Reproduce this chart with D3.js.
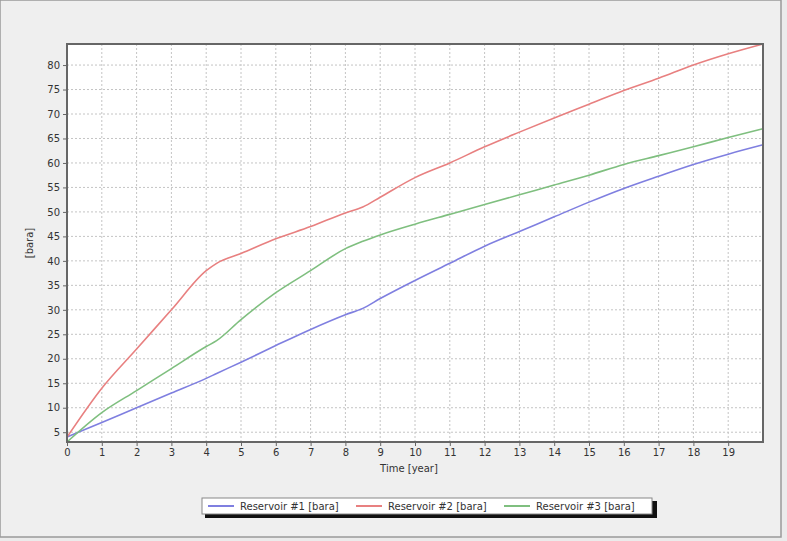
<!DOCTYPE html>
<html>
<head>
  <script src="https://cdn.jsdelivr.net/npm/d3@7"></script>
  <style>body{margin:0;background:#fff}</style>
</head>
<body>
<script>
  const years = [0, 1, 2, 3, 4, 4.3, 5, 6, 7, 8, 8.5, 9, 10, 11, 12, 13, 14, 15, 16, 17, 18, 19, 20];
  const res1 = [4, 7, 10, 13, 16, 17, 19.3, 22.7, 26, 29, 30.3, 32.3, 36, 39.5, 43, 46, 49, 52, 54.8, 57.3, 59.7, 61.8, 63.7];
  const res2 = [4, 14, 22, 30, 38, 39.5, 41.5, 44.5, 47, 49.8, 51, 53, 57, 60, 63.3, 66.3, 69.2, 72, 74.8, 77.3, 80, 82.3, 84.3];
  const res3 = [3, 9, 13.5, 18, 22.5, 23.7, 28, 33.5, 38, 42.5, 44, 45.3, 47.5, 49.5, 51.5, 53.5, 55.5, 57.5, 59.7, 61.5, 63.3, 65.2, 67];
  const names = ["Reservoir #1 [bara]", "Reservoir #2 [bara]", "Reservoir #3 [bara]"];
  const colors = ["#7f7fe0", "#e88080", "#7fbf7f"];
  const xTicks = d3.range(0, 20);
  const yTicks = d3.range(5, 85, 5);

  const W = 787, H = 541;
  const m = {left: 67, right: 24, top: 44, bottom: 99};
  const svg = d3.select("body").append("svg").attr("width", W).attr("height", H)
    .style("font-family", "Verdana, 'DejaVu Sans', sans-serif");

  // Hintergrund und Rahmen
  svg.append("rect").attr("width", W).attr("height", H).attr("fill", "#ebebeb");
  svg.append("rect").attr("x", 0).attr("y", 0).attr("width", 781).attr("height", 537)
    .attr("fill", "#efefef").attr("stroke", "#9a9a9a").attr("stroke-width", 1.5);

  const x = d3.scaleLinear().domain([0, 20]).range([m.left, W - m.right]);
  const y = d3.scaleLinear().domain([3, 84.3]).range([H - m.bottom, m.top]);

  svg.append("rect").attr("x", m.left).attr("y", m.top)
    .attr("width", x(20) - x(0)).attr("height", y(3) - y(84.3)).attr("fill", "#fff");

  // Gitter
  svg.append("g").selectAll("line").data(xTicks.slice(1)).enter().append("line")
    .attr("x1", d => x(d)).attr("x2", d => x(d)).attr("y1", m.top).attr("y2", y(3))
    .attr("stroke", "#c4c4c4").attr("stroke-dasharray", "2,2");
  svg.append("g").selectAll("line").data(yTicks).enter().append("line")
    .attr("y1", d => y(d)).attr("y2", d => y(d)).attr("x1", m.left).attr("x2", x(20))
    .attr("stroke", "#c4c4c4").attr("stroke-dasharray", "2,2");

  const xAxis = svg.append("g").attr("transform", `translate(0,${y(3)})`)
    .call(d3.axisBottom(x).tickValues(xTicks).tickFormat(d3.format("d")).tickSize(4));
  const yAxis = svg.append("g").attr("transform", `translate(${m.left},0)`)
    .call(d3.axisLeft(y).tickValues(yTicks).tickSize(4));
  [xAxis, yAxis].forEach(a => {
    a.select(".domain").remove();
    a.selectAll("text").attr("font-size", 10).attr("fill", "#333").attr("font-family", "Verdana, 'DejaVu Sans', sans-serif");
    a.selectAll("line").attr("stroke", "#666");
  });

  const series = [res1, res2, res3];
  const line = d3.line().curve(d3.curveMonotoneX).x((d, i) => x(years[i])).y(d => y(d));
  series.forEach((s, k) => {
    svg.append("path").datum(s).attr("d", line).attr("fill", "none")
      .attr("stroke", colors[k]).attr("stroke-width", 1.6);
  });

  // Plot-Rahmen
  svg.append("rect").attr("x", m.left).attr("y", m.top)
    .attr("width", x(20) - x(0)).attr("height", y(3) - y(84.3))
    .attr("fill", "none").attr("stroke", "#666").attr("stroke-width", 2);

  svg.append("text").attr("x", (x(0) + x(20)) / 2 - 6).attr("y", 472).attr("text-anchor", "middle")
    .attr("font-size", 10).attr("fill", "#333").text("Time [year]");
  svg.append("text").attr("transform", `translate(33,${(m.top + y(3)) / 2}) rotate(-90)`)
    .attr("text-anchor", "middle").attr("font-size", 10).attr("fill", "#333").text("[bara]");

  // Legende
  const lg = svg.append("g").attr("transform", "translate(202,498)");
  lg.append("rect").attr("x", 3).attr("y", 3).attr("width", 452).attr("height", 17).attr("fill", "#111");
  lg.append("rect").attr("width", 450).attr("height", 16).attr("fill", "#fff").attr("stroke", "#888");
  const offs = [6, 154, 302];
  names.forEach((n, k) => {
    lg.append("line").attr("x1", offs[k]).attr("x2", offs[k] + 26).attr("y1", 8).attr("y2", 8)
      .attr("stroke", colors[k]).attr("stroke-width", 2);
    lg.append("text").attr("x", offs[k] + 32).attr("y", 12).attr("font-size", 10).attr("fill", "#333").text(n);
  });
</script>
</body>
</html>
